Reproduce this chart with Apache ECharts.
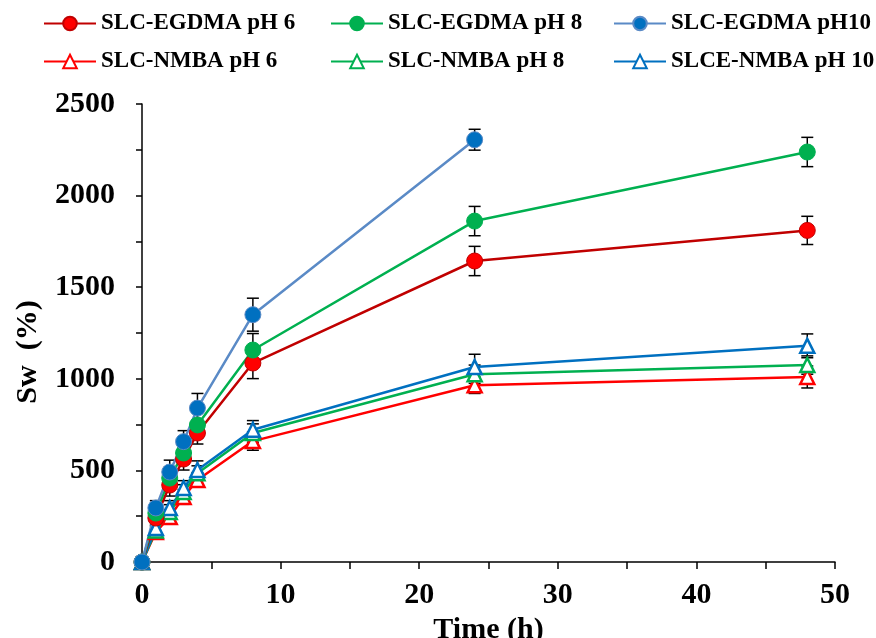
<!DOCTYPE html>
<html>
<head>
<meta charset="utf-8">
<script src="https://cdn.jsdelivr.net/npm/echarts@6/dist/echarts.min.js"></script>
<style>
html,body{margin:0;padding:0;background:#fff;}
#chart{width:876px;height:638px;}
</style>
</head>
<body>
<div id="chart"></div>
<script>
// time points (h)
var times = [0, 1, 2, 3, 4, 8, 24, 48];

// swelling (%)
var egdma6  = [0, 240, 420, 562, 704, 1086, 1643, 1810];
var egdma8  = [0, 267, 458, 595, 748, 1157, 1861, 2238];
var egdma10 = [0, 295, 491, 657, 840, 1350, 2305];
var nmba6   = [0, 164, 246, 355, 448, 660, 965, 1010];
var nmba8   = [0, 172, 273, 382, 485, 704, 1025, 1075];
var nmba10  = [0, 186, 295, 404, 502, 722, 1064, 1180];

// error bars (+/-)
var egdma6Err  = [0, 40, 60, 60, 60, 85, 80, 77];
var egdma8Err  = [0, 40, 60, 60, 70, 90, 80, 80];
var egdma10Err = [0, 40, 65, 60, 80, 90, 57];
var nmba6Err   = [0, 30, 40, 40, 40, 50, 45, 60];
var nmba8Err   = [0, 30, 40, 40, 40, 50, 50, 50];
var nmba10Err  = [0, 30, 40, 40, 50, 50, 70, 65];

var names = ['SLC-EGDMA pH 6', 'SLC-EGDMA pH 8', 'SLC-EGDMA pH10',
             'SLC-NMBA pH 6', 'SLC-NMBA pH 8', 'SLC-NMBA pH 10'];
var nameLabels = ['SLC-EGDMA pH 6', 'SLC-EGDMA pH 8', 'SLC-EGDMA pH10',
             'SLC-NMBA pH 6', 'SLC-NMBA pH 8', 'SLCE-NMBA pH 10'];

var yTicks = [0, 500, 1000, 1500, 2000, 2500];
var xTicks = [0, 10, 20, 30, 40, 50];

var FONT = '"Liberation Serif","Times New Roman",serif';

function pairs(vals){
    var out = [];
    for (var i = 0; i < vals.length; i++) out.push([times[i], vals[i]]);
    return out;
}
function bars(vals, errs){
    var out = [];
    for (var i = 0; i < vals.length; i++){
        if (errs[i] > 0) out.push([times[i], vals[i] - errs[i], vals[i] + errs[i]]);
    }
    return out;
}

var errData = []
    .concat(bars(nmba6, nmba6Err))
    .concat(bars(nmba8, nmba8Err))
    .concat(bars(nmba10, nmba10Err))
    .concat(bars(egdma6, egdma6Err))
    .concat(bars(egdma8, egdma8Err))
    .concat(bars(egdma10, egdma10Err));

function lineSeries(name, vals, lineColor, markColor, sym){
    var s = {
        name: name,
        type: 'line',
        data: pairs(vals),
        z: 3,
        symbol: sym,
        symbolSize: sym == 'circle' ? 16 : 14,
        lineStyle: {color: lineColor, width: 2.5},
        animation: false
    };
    if (sym == 'circle'){
        s.itemStyle = {color: markColor, borderColor: lineColor, borderWidth: 1};
    } else {
        s.itemStyle = {color: '#fff', borderColor: markColor, borderWidth: 2.5};
    }
    return s;
}

var legendPos = [[38, 7], [325, 7], [608, 7], [38, 45], [325, 45], [608, 45]];
var legends = [];
for (var i = 0; i < names.length; i++){
    legends.push({
        data: [names[i]],
        left: legendPos[i][0],
        top: legendPos[i][1],
        itemWidth: 52,
        itemHeight: 17,
        itemGap: 0,
        selectedMode: false,
        formatter: (function(j){ return function(){ return nameLabels[j]; }; })(i),
        textStyle: {fontFamily: FONT, fontWeight: 'bold', fontSize: 23, color: '#000'}
    });
}

var chart = echarts.init(document.getElementById('chart'));
var option = {
    backgroundColor: '#fff',
    animation: false,
    legend: legends,
    grid: {left: 142, right: 41, top: 104, bottom: 76, containLabel: false, outerBoundsMode: 'none'},
    xAxis: {
        type: 'value',
        min: 0, max: 50, interval: 5,
        name: 'Time (h)',
        nameLocation: 'middle',
        nameGap: 48,
        nameTextStyle: {fontFamily: FONT, fontWeight: 'bold', fontSize: 30, color: '#000'},
        axisLine: {show: true, lineStyle: {color: '#000', width: 1.5}},
        axisTick: {show: true, inside: false, length: 7, lineStyle: {color: '#000', width: 1.5}},
        splitLine: {show: false},
        axisLabel: {
            margin: 18,
            fontFamily: FONT, fontWeight: 'bold', fontSize: 30, color: '#000',
            formatter: function(v){ return xTicks.indexOf(v) >= 0 ? String(v) : ''; }
        }
    },
    yAxis: {
        type: 'value',
        min: 0, max: 2500, interval: 250,
        axisLine: {show: true, lineStyle: {color: '#000', width: 1.5}},
        axisTick: {show: true, inside: false, length: 6, lineStyle: {color: '#000', width: 1.5}},
        splitLine: {show: false},
        axisLabel: {
            margin: 27,
            fontFamily: FONT, fontWeight: 'bold', fontSize: 30, color: '#000',
            formatter: function(v){ return yTicks.indexOf(v) >= 0 ? String(v) : ''; }
        }
    },
    graphic: [{
        type: 'text',
        x: 28, y: 352,
        rotation: Math.PI / 2,
        style: {
            text: 'Sw  (%)',
            font: 'bold 30px ' + FONT,
            fill: '#000',
            align: 'center',
            verticalAlign: 'middle'
        }
    }],
    series: [
        {
            type: 'custom',
            z: 2,
            data: errData,
            encode: {x: 0, y: [1, 2]},
            renderItem: function(params, api){
                var x = api.value(0);
                var lo = api.coord([x, api.value(1)]);
                var hi = api.coord([x, api.value(2)]);
                var w = 6;
                var st = {stroke: '#000', lineWidth: 1.5};
                return {type: 'group', children: [
                    {type: 'line', shape: {x1: lo[0], y1: lo[1], x2: hi[0], y2: hi[1]}, style: st},
                    {type: 'line', shape: {x1: lo[0] - w, y1: lo[1], x2: lo[0] + w, y2: lo[1]}, style: st},
                    {type: 'line', shape: {x1: hi[0] - w, y1: hi[1], x2: hi[0] + w, y2: hi[1]}, style: st}
                ]};
            }
        },
        lineSeries(names[3], nmba6, '#FF0000', '#FF0000', 'triangle'),
        lineSeries(names[4], nmba8, '#00B050', '#00B050', 'triangle'),
        lineSeries(names[5], nmba10, '#0070C0', '#0070C0', 'triangle'),
        lineSeries(names[0], egdma6, '#C00000', '#FF0000', 'circle'),
        lineSeries(names[1], egdma8, '#00B050', '#00B050', 'circle'),
        lineSeries(names[2], egdma10, '#5A8AC6', '#0070C0', 'circle')
    ]
};
chart.setOption(option);
</script>
</body>
</html>
